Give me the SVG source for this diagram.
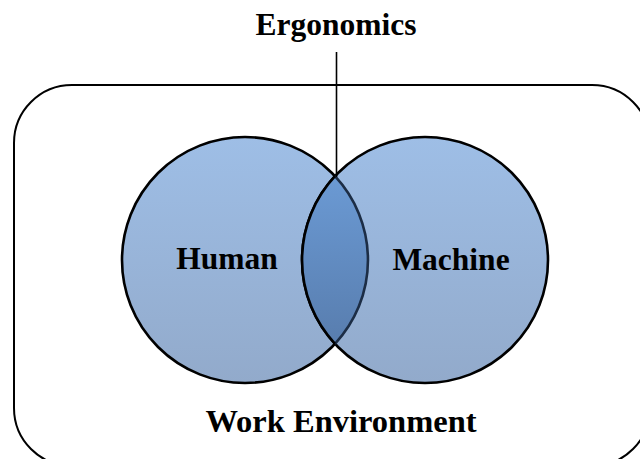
<svg xmlns="http://www.w3.org/2000/svg" width="640" height="459" viewBox="0 0 640 459">
  <defs>
    <linearGradient id="circleFill" x1="0" y1="0" x2="0" y2="1">
      <stop offset="0" stop-color="#9ebee6"/>
      <stop offset="1" stop-color="#92aacb"/>
    </linearGradient>
    <linearGradient id="lensFill" x1="0" y1="0" x2="0" y2="1">
      <stop offset="0" stop-color="#6b9ad4"/>
      <stop offset="1" stop-color="#587dae"/>
    </linearGradient>
  </defs>
  <style>
    .label { font-family: "Liberation Serif", "Times New Roman", serif; font-weight: bold; fill: #000; text-anchor: middle; }
    .outline { fill: none; stroke: #000; stroke-width: 2; }
    .circle { fill: url(#circleFill); stroke: #000; stroke-width: 2.6; }
  </style>

  <!-- work environment boundary -->
  <g id="environment">
    <rect class="outline" x="14" y="85" width="636" height="381" rx="58" ry="58"/>
    <text class="label" x="341" y="432" font-size="32.5">Work Environment</text>
  </g>

  <g id="human">
    <circle class="circle" cx="245" cy="260" r="123"/>
    <text class="label" x="227" y="269" font-size="31.5">Human</text>
  </g>

  <g id="machine">
    <circle class="circle" cx="425" cy="260" r="123"/>
    <text class="label" x="451" y="270" font-size="31.5">Machine</text>
  </g>

  <!-- overlap of the two circles -->
  <g id="overlap">
    <path d="M335,176.2 A123,123 0 0 1 335,343.8 A123,123 0 0 1 335,176.2 Z" fill="url(#lensFill)"/>
    <path d="M335,176.2 A123,123 0 0 1 335,343.8" fill="none" stroke="#1c2d45" stroke-width="2.6"/>
    <path d="M335,343.8 A123,123 0 0 1 335,176.2" fill="none" stroke="#000" stroke-width="2.6"/>
  </g>

  <g id="connectors">
    <line x1="336.5" y1="52" x2="336.5" y2="177" stroke="#000" stroke-width="1.6"/>
  </g>

  <g id="ergonomics">
    <text class="label" x="336" y="35" font-size="31.5">Ergonomics</text>
  </g>
</svg>
